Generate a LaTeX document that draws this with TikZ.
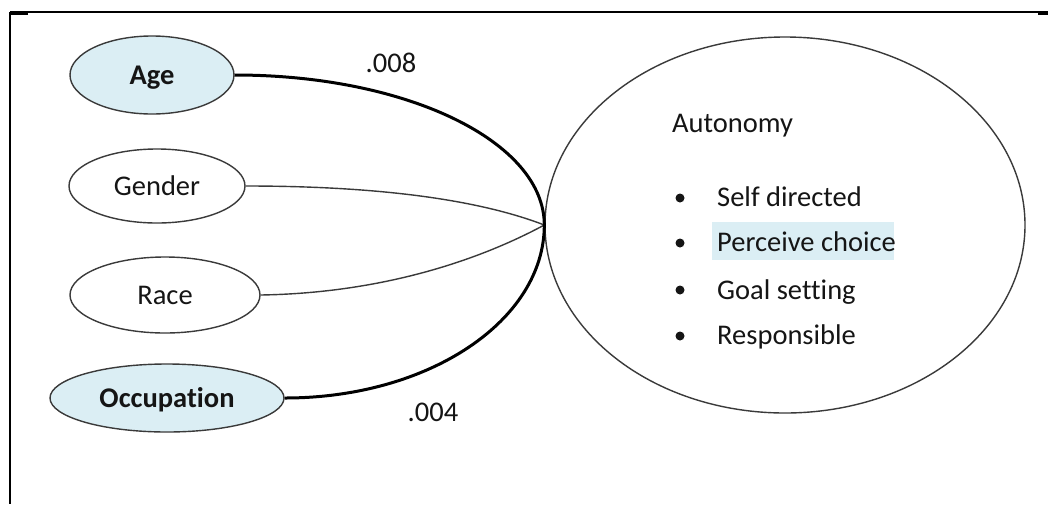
\documentclass[tikz,border=0pt]{standalone}
\usepackage{fontspec}
\setmainfont[Ligatures=NoCommon]{Carlito}
\usetikzlibrary{shapes.geometric}
\definecolor{lightcyan}{HTML}{DBEEF4}
\definecolor{outline}{HTML}{3A3A3A}
\definecolor{ink}{HTML}{151515}
\newcommand{\bodyfont}{\fontsize{28.5}{34}\selectfont}
\tikzset{
  var/.style={ellipse, draw=outline, line width=1.4pt, inner sep=0pt,
    text height=18pt, text depth=0pt, text=ink, font=\bodyfont},
  keyvar/.style={var, fill=lightcyan, font=\bodyfont\bfseries},
  bigvar/.style={ellipse, draw=outline, line width=1.4pt, inner sep=0pt},
  txt/.style={anchor=base west, inner sep=0pt, text=ink, font=\bodyfont},
  coef/.style={anchor=base, inner sep=0pt, text=ink, font=\bodyfont},
  dot/.style={circle, fill=ink, inner sep=0pt, minimum size=9pt},
  strong/.style={line width=3pt, black},
  weak/.style={line width=1.4pt, outline},
}
\begin{document}
\begin{tikzpicture}[x=1pt, y=-1pt]
  \useasboundingbox (0,0) rectangle (1048,504);
  \fill[white] (0,0) rectangle (1048,504);

  % page frame (top and left rules)
  \draw[line width=1.6pt] (10,12) -- (1048,12);
  \draw[line width=1.6pt] (10,12) -- (10,504);
  \fill (10,11.2) rectangle (28,14.6);
  \fill (1038,11.2) rectangle (1048,14.6);

  % predictor ellipses
  \node[keyvar, minimum width=164pt, minimum height=78pt] (age) at (152,75) {Age};
  \node[var, minimum width=176pt, minimum height=74pt] (gen) at (157,186) {Gender};
  \node[var, minimum width=190pt, minimum height=76pt] (race) at (165,295) {Race};
  \node[keyvar, minimum width=234pt, minimum height=68pt] (occ) at (167,398) {Occupation};

  % outcome ellipse
  \node[bigvar, minimum width=480pt, minimum height=376pt] (aut) at (785,225) {};

  % links to the outcome
  \draw[weak] (gen.east) .. controls +(135,0) and +(-65,-25) .. (aut.west);
  \draw[weak] (race.east) .. controls +(122,-2) and +(-65,35) .. (aut.west);
  \draw[strong] (age.east) .. controls +(173,0) and +(0,-83) .. (aut.west)
                .. controls +(0,95) and +(145,0) .. (occ.east);

  % coefficients
  \node[coef] (c1) at (391,72) {.008};
  \node[coef] (c2) at (433,421) {.004};

  % outcome contents
  \node[txt] (title) at (672,132) {Autonomy};
  \fill[lightcyan] (712,222) rectangle (894,260);
  \node[dot] (b1) at (680,198) {};
  \node[dot] (b2) at (680,243) {};
  \node[dot] (b3) at (680,290) {};
  \node[dot] (b4) at (680,336) {};
  \node[txt] (i1) at (717,206) {Self directed};
  \node[txt] (i2) at (717,251) {Perceive choice};
  \node[txt] (i3) at (717,299) {Goal setting};
  \node[txt] (i4) at (717,344) {Responsible};
\end{tikzpicture}
\end{document}
